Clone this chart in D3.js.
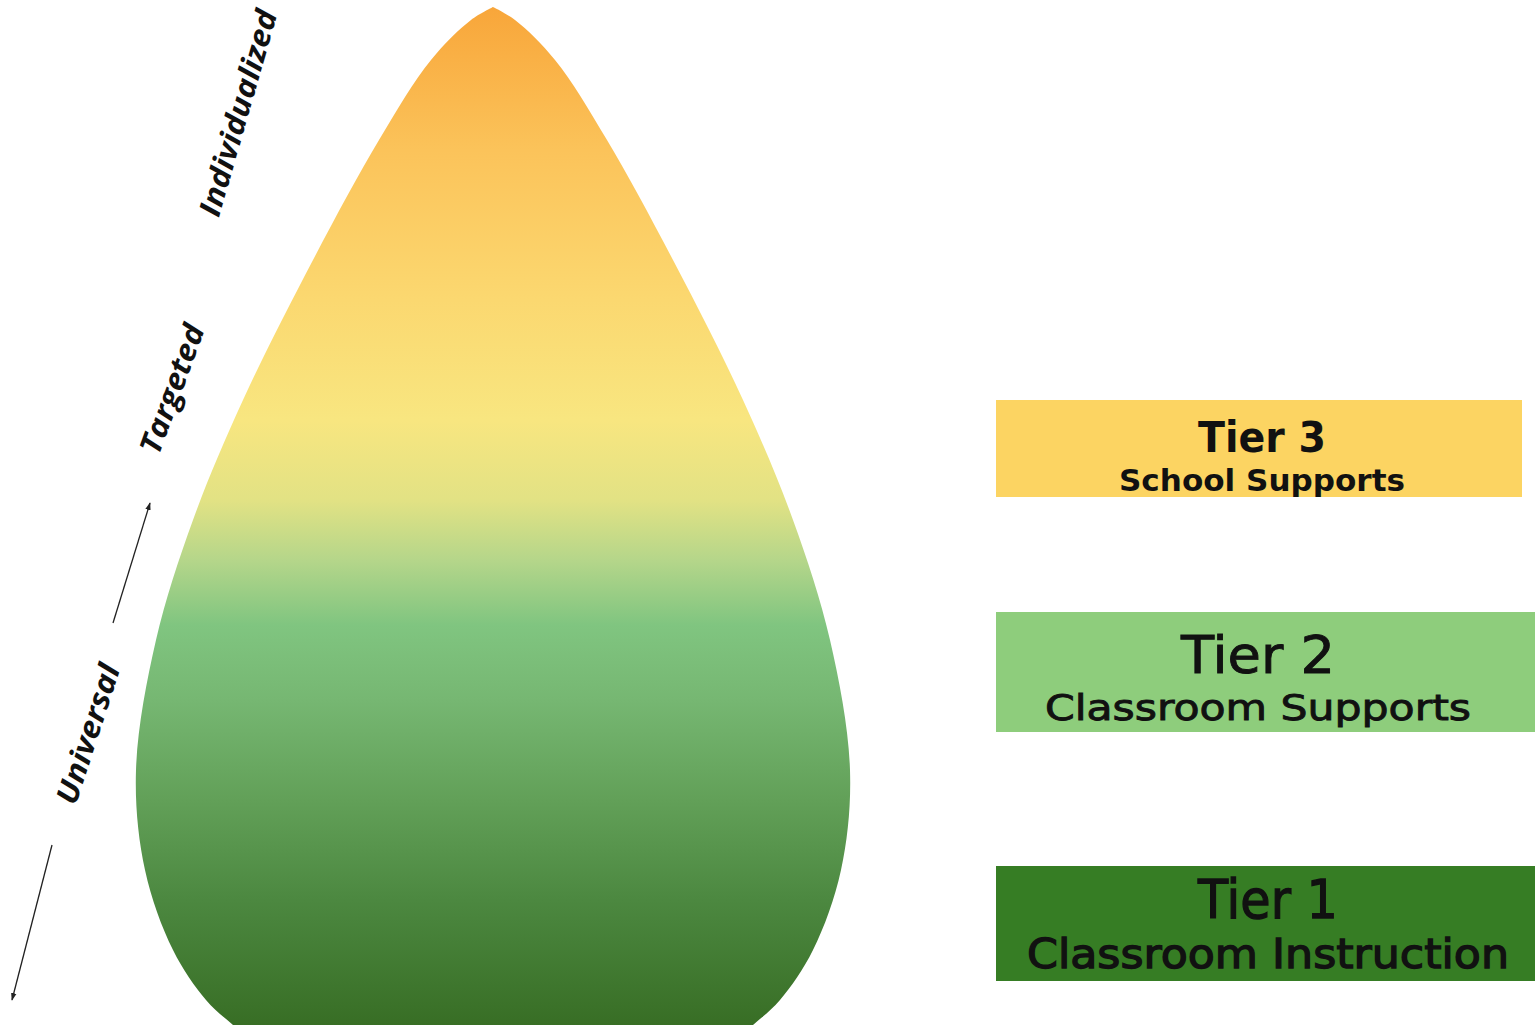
<!DOCTYPE html>
<html>
<head>
<meta charset="utf-8">
<script src="https://cdn.jsdelivr.net/npm/d3@7"></script>
<style>
  body { margin: 0; background: #fff; overflow: hidden; }
</style>
</head>
<body>
<div id="chart"></div>
<script>
// drop outline: depth from top (px in source image) and half width
var dropDepth = [7, 20, 60, 140, 260, 400, 520, 640, 770, 870, 950, 1000, 1025, 1060];
var dropHalf  = [0, 22, 62, 114, 180, 250, 300, 337, 357, 348, 320, 287, 260, 218];

// vertical colour gradient of the drop
var stopDepth  = [7, 150, 300, 420, 500, 560, 625, 700, 800, 900, 1025];
var stopColors = ["#f8a63a", "#fbc35a", "#fbd870", "#f8e680", "#e2e284", "#b5d68a", "#80c580", "#76b772", "#62a058", "#4c8840", "#386e25"];

// side labels and arrows
var sideLabels = ["Individualized", "Targeted", "Universal"];
var sideLabelX = [238, 172, 88];
var sideLabelY = [113, 389, 734];
var sideLabelAngle = [-74, -70, -72];
var sideLabelLen = [213, 135, 145];

var arrowFrom = [[113, 623], [52, 845]];
var arrowTo   = [[150, 503], [12, 1000]];

// tiers
var tierTitles = ["Tier 3", "Tier 2", "Tier 1"];
var tierSubs = ["School Supports", "Classroom Supports", "Classroom Instruction"];
var tierColors = ["#fcd462", "#8ecd7c", "#367d24"];

var width = 1535, height = 1025;

var svg = d3.select("#chart")
    .append("svg")
    .attr("width", width)
    .attr("height", height);

var defs = svg.append("defs");

var y = d3.scaleLinear().domain([0, 1025]).range([0, height]);
var x = d3.scaleLinear().domain([-493, 493]).range([0, 986]);

var grad = defs.append("linearGradient")
    .attr("id", "dropGrad")
    .attr("gradientUnits", "userSpaceOnUse")
    .attr("x1", 0).attr("x2", 0)
    .attr("y1", y(stopDepth[0]))
    .attr("y2", y(stopDepth[stopDepth.length - 1]));

var off = d3.scaleLinear()
    .domain([stopDepth[0], stopDepth[stopDepth.length - 1]])
    .range([0, 1]);

grad.selectAll("stop")
    .data(stopDepth)
    .enter()
    .append("stop")
    .attr("offset", function (d) { return off(d); })
    .attr("stop-color", function (d, i) { return stopColors[i]; });

var drop = dropDepth.map(function (d, i) { return { depth: d, half: dropHalf[i] }; });

var area = d3.area()
    .curve(d3.curveCatmullRom.alpha(0.5))
    .y(function (d) { return y(d.depth); })
    .x0(function (d) { return x(-d.half); })
    .x1(function (d) { return x(d.half); });

svg.append("path")
    .datum(drop)
    .attr("fill", "url(#dropGrad)")
    .attr("d", area);

// arrow marker
defs.append("marker")
    .attr("id", "arrowHead")
    .attr("viewBox", "0 0 10 10")
    .attr("refX", 9).attr("refY", 5)
    .attr("markerWidth", 6).attr("markerHeight", 6)
    .attr("orient", "auto")
    .append("path")
    .attr("d", "M0,1.5 L10,5 L0,8.5 Z")
    .attr("fill", "#222");

svg.selectAll(".arrow")
    .data(arrowFrom)
    .enter()
    .append("line")
    .attr("class", "arrow")
    .attr("x1", function (d) { return d[0]; })
    .attr("y1", function (d) { return y(d[1]); })
    .attr("x2", function (d, i) { return arrowTo[i][0]; })
    .attr("y2", function (d, i) { return y(arrowTo[i][1]); })
    .attr("stroke", "#222")
    .attr("stroke-width", 1.3)
    .attr("marker-end", "url(#arrowHead)");

svg.selectAll(".side")
    .data(sideLabels)
    .enter()
    .append("text")
    .attr("class", "side")
    .attr("transform", function (d, i) {
        return "translate(" + sideLabelX[i] + "," + y(sideLabelY[i]) + ") rotate(" + sideLabelAngle[i] + ")";
    })
    .attr("text-anchor", "middle")
    .attr("dy", "0.35em")
    .attr("textLength", function (d, i) { return sideLabelLen[i]; })
    .attr("lengthAdjust", "spacingAndGlyphs")
    .style("font-family", "'Open Sans', sans-serif")
    .style("font-style", "italic")
    .style("font-weight", 700)
    .style("font-size", "30px")
    .attr("fill", "#111")
    .text(function (d) { return d; });

// tier boxes
var boxX0 = [996, 996, 996];
var boxX1 = [1522, 1535, 1535];
var boxY0 = [400, 612, 866];
var boxY1 = [497, 732, 981];
var titleY = [452, 673, 918];
var subY = [491, 720, 968];
var titleSize = [42, 52, 54];
var subSize = [30, 36, 40];
var titleLen = [128, 154, 140];
var subLen = [286, 426, 482];
var textX = [1262, 1258, 1268];
var textWeight = [700, 400, 400];
var textStroke = [0, 0.9, 1.3];

var boxes = svg.selectAll(".tier")
    .data(tierTitles)
    .enter()
    .append("g")
    .attr("class", "tier");

boxes.append("rect")
    .attr("x", function (d, i) { return boxX0[i]; })
    .attr("y", function (d, i) { return y(boxY0[i]); })
    .attr("width", function (d, i) { return boxX1[i] - boxX0[i]; })
    .attr("height", function (d, i) { return y(boxY1[i]) - y(boxY0[i]); })
    .attr("fill", function (d, i) { return tierColors[i]; });

boxes.append("text")
    .attr("x", function (d, i) { return textX[i]; })
    .attr("y", function (d, i) { return y(titleY[i]); })
    .attr("text-anchor", "middle")
    .attr("textLength", function (d, i) { return titleLen[i]; })
    .attr("lengthAdjust", "spacingAndGlyphs")
    .style("font-family", "'DejaVu Sans', sans-serif")
    .style("font-weight", function (d, i) { return textWeight[i]; })
    .style("font-size", function (d, i) { return titleSize[i] + "px"; })
    .attr("fill", "#111")
    .attr("stroke", "#111")
    .attr("stroke-width", function (d, i) { return textStroke[i]; })
    .text(function (d) { return d; });

boxes.append("text")
    .attr("x", function (d, i) { return textX[i]; })
    .attr("y", function (d, i) { return y(subY[i]); })
    .attr("text-anchor", "middle")
    .attr("textLength", function (d, i) { return subLen[i]; })
    .attr("lengthAdjust", "spacingAndGlyphs")
    .style("font-family", "'DejaVu Sans', sans-serif")
    .style("font-weight", function (d, i) { return textWeight[i]; })
    .style("font-size", function (d, i) { return subSize[i] + "px"; })
    .attr("fill", "#111")
    .attr("stroke", "#111")
    .attr("stroke-width", function (d, i) { return textStroke[i]; })
    .text(function (d, i) { return tierSubs[i]; });
</script>
</body>
</html>
